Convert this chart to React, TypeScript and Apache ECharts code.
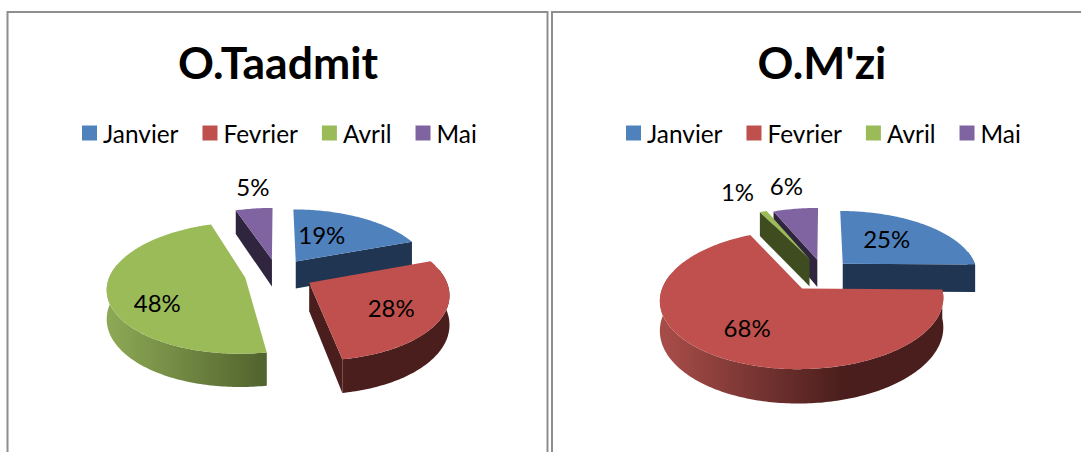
import React, { useEffect, useRef } from "react";
import * as echarts from "echarts";

const months = ["Janvier", "Fevrier", "Avril", "Mai"];
const titles = ["O.Taadmit", "O.M'zi"];
const taadmit = [19.4, 27.9, 47.5, 5.2];
const mzi = [25.2, 67.5, 1, 6.3];
const valueSets = [taadmit, mzi];

const topColors = ["#4f81bd", "#c0504d", "#9bbb59", "#8064a2"];
const wallDark = ["#1f3552", "#4a1e1c", "#4a5a28", "#30253f"];
const wallLight = ["#3c618f", "#a64c48", "#8ca855", "#5f4a7a"];
const faceColors = ["#1f3552", "#4a1e1c", "#3f4c20", "#30253f"];

const FONT = "Lato";
const RADIUS = 135;
const TILT = 0.469;
const PERSP = 0.15;
const DEPTH = 28;
const centers = [[277, 274], [823, 273]];
const explodes = [[0.25, 0.27, 0.24, 0.24], [0.21, 0.28, 0.25, 0.22]];
const labelShift = [
  [[26, -27], [82, 25], [-88, 25], [-19, -73]],
  [[44, -25], [-55, 39], [-72, -68], [-31, -74]],
];

function project(c: number[], px: number, py: number, z: number) {
  const s = 1 / (1 - PERSP * py);
  return [c[0] + RADIUS * px * s, c[1] + RADIUS * TILT * py * s + z * DEPTH * s];
}

function makeSeries(chart: number, idx: number) {
  const values = valueSets[chart];
  const total = values.reduce((a, b) => a + b, 0);
  const before = values.slice(0, idx).reduce((a, b) => a + b, 0);
  const a0 = (before / total) * 360;
  const a1 = ((before + values[idx]) / total) * 360;
  const mid = (((a0 + a1) / 2) * Math.PI) / 180;
  const e = explodes[chart][idx];
  const c = centers[chart];
  const ox = e * Math.sin(mid);
  const oy = -e * Math.cos(mid);
  const rim = (deg: number, z: number) => {
    const t = (deg * Math.PI) / 180;
    return project(c, ox + Math.sin(t), oy - Math.cos(t), z);
  };
  const arc = (from: number, to: number, z: number) => {
    const pts: number[][] = [];
    const n = Math.max(2, Math.ceil(Math.abs(to - from)));
    for (let i = 0; i <= n; i++) pts.push(rim(from + ((to - from) * i) / n, z));
    return pts;
  };
  const apex = (z: number) => project(c, ox, oy, z);
  const order = values
    .map((_, i) => i)
    .map((i) => {
      const b = values.slice(0, i).reduce((p, q) => p + q, 0);
      const m = (((b + values[i] / 2) / total) * 2 * Math.PI);
      return { i, y: -Math.cos(m) };
    })
    .sort((p, q) => p.y - q.y)
    .findIndex((o) => o.i === idx);
  const z2 = 10 + order * 10;

  return {
    type: "custom",
    name: months[idx],
    coordinateSystem: "none",
    itemStyle: { color: topColors[idx] },
    data: [values[idx]],
    silent: true,
    renderItem: (_p: any, api: any) => {
      const children: any[] = [];
      const face = (deg: number) => ({
        type: "polygon",
        z2,
        shape: { points: [apex(0), rim(deg, 0), rim(deg, 1), apex(1)] },
        style: { fill: faceColors[idx] },
      });
      if (Math.sin((a0 * Math.PI) / 180) < 0) children.push(face(a0));
      if (Math.sin((a1 * Math.PI) / 180) > 0) children.push(face(a1));
      const w0 = Math.max(a0, 78);
      const w1 = Math.min(a1, 282);
      if (w1 > w0) {
        const ax = apex(0)[0];
        children.push({
          type: "polygon",
          z2,
          shape: { points: [...arc(w0, w1, 0), ...arc(w1, w0, 1)] },
          style: {
            fill: {
              type: "linear",
              x: ax - RADIUS,
              y: 0,
              x2: ax + RADIUS * 0.3,
              y2: 0,
              global: true,
              colorStops: [
                { offset: 0, color: wallLight[idx] },
                { offset: 1, color: wallDark[idx] },
              ],
            },
          },
        });
      }
      children.push({
        type: "polygon",
        z2: z2 + 1,
        shape: { points: [apex(0), ...arc(a0, a1, 0)] },
        style: { fill: topColors[idx] },
      });
      const a = apex(0);
      const shift = labelShift[chart][idx];
      children.push({
        type: "text",
        z2: 1000,
        x: a[0] + shift[0],
        y: a[1] + shift[1],
        style: {
          text: Math.round(api.value(0)) + "%",
          font: `24px ${FONT}`,
          fill: "#000",
          align: "center",
          verticalAlign: "middle",
        },
      });
      return { type: "group", children };
    },
  };
}

export default function App() {
  const ref = useRef<HTMLDivElement>(null);
  useEffect(() => {
    const chart = echarts.init(ref.current!, undefined, { renderer: "svg" });
    const legend = (left: number) => ({
      left,
      top: 121,
      icon: "rect",
      itemWidth: 15,
      itemHeight: 15,
      itemGap: 24,
      selectedMode: false,
      data: months,
      padding: 0,
      textStyle: { fontFamily: FONT, fontSize: 24.4, color: "#000", padding: [0, 0, 3, 1] },
    });
    const titleStyle = { fontFamily: FONT, fontWeight: "bold", fontSize: 44.5, color: "#000" };
    chart.setOption({
      animation: false,
      backgroundColor: "#fff",
      title: [
        { text: titles[0], left: 278, top: 39, textAlign: "center", padding: 0, textStyle: titleStyle },
        { text: titles[1], left: 822, top: 39, textAlign: "center", padding: 0, textStyle: titleStyle },
      ],
      legend: [legend(82), legend(626)],
      graphic: [
        { type: "rect", silent: true, shape: { x: 7.5, y: 12, width: 540, height: 520 }, style: { fill: "none", stroke: "#8e8e8e", lineWidth: 2 } },
        { type: "rect", silent: true, shape: { x: 552, y: 12, width: 640, height: 520 }, style: { fill: "none", stroke: "#8e8e8e", lineWidth: 2 } },
      ],
      series: [0, 1].flatMap((c) => months.map((_, i) => makeSeries(c, i))),
    });
    return () => chart.dispose();
  }, []);
  return <div ref={ref} style={{ position: "absolute", left: 0, top: 0, width: 1081, height: 452 }} />;
}
